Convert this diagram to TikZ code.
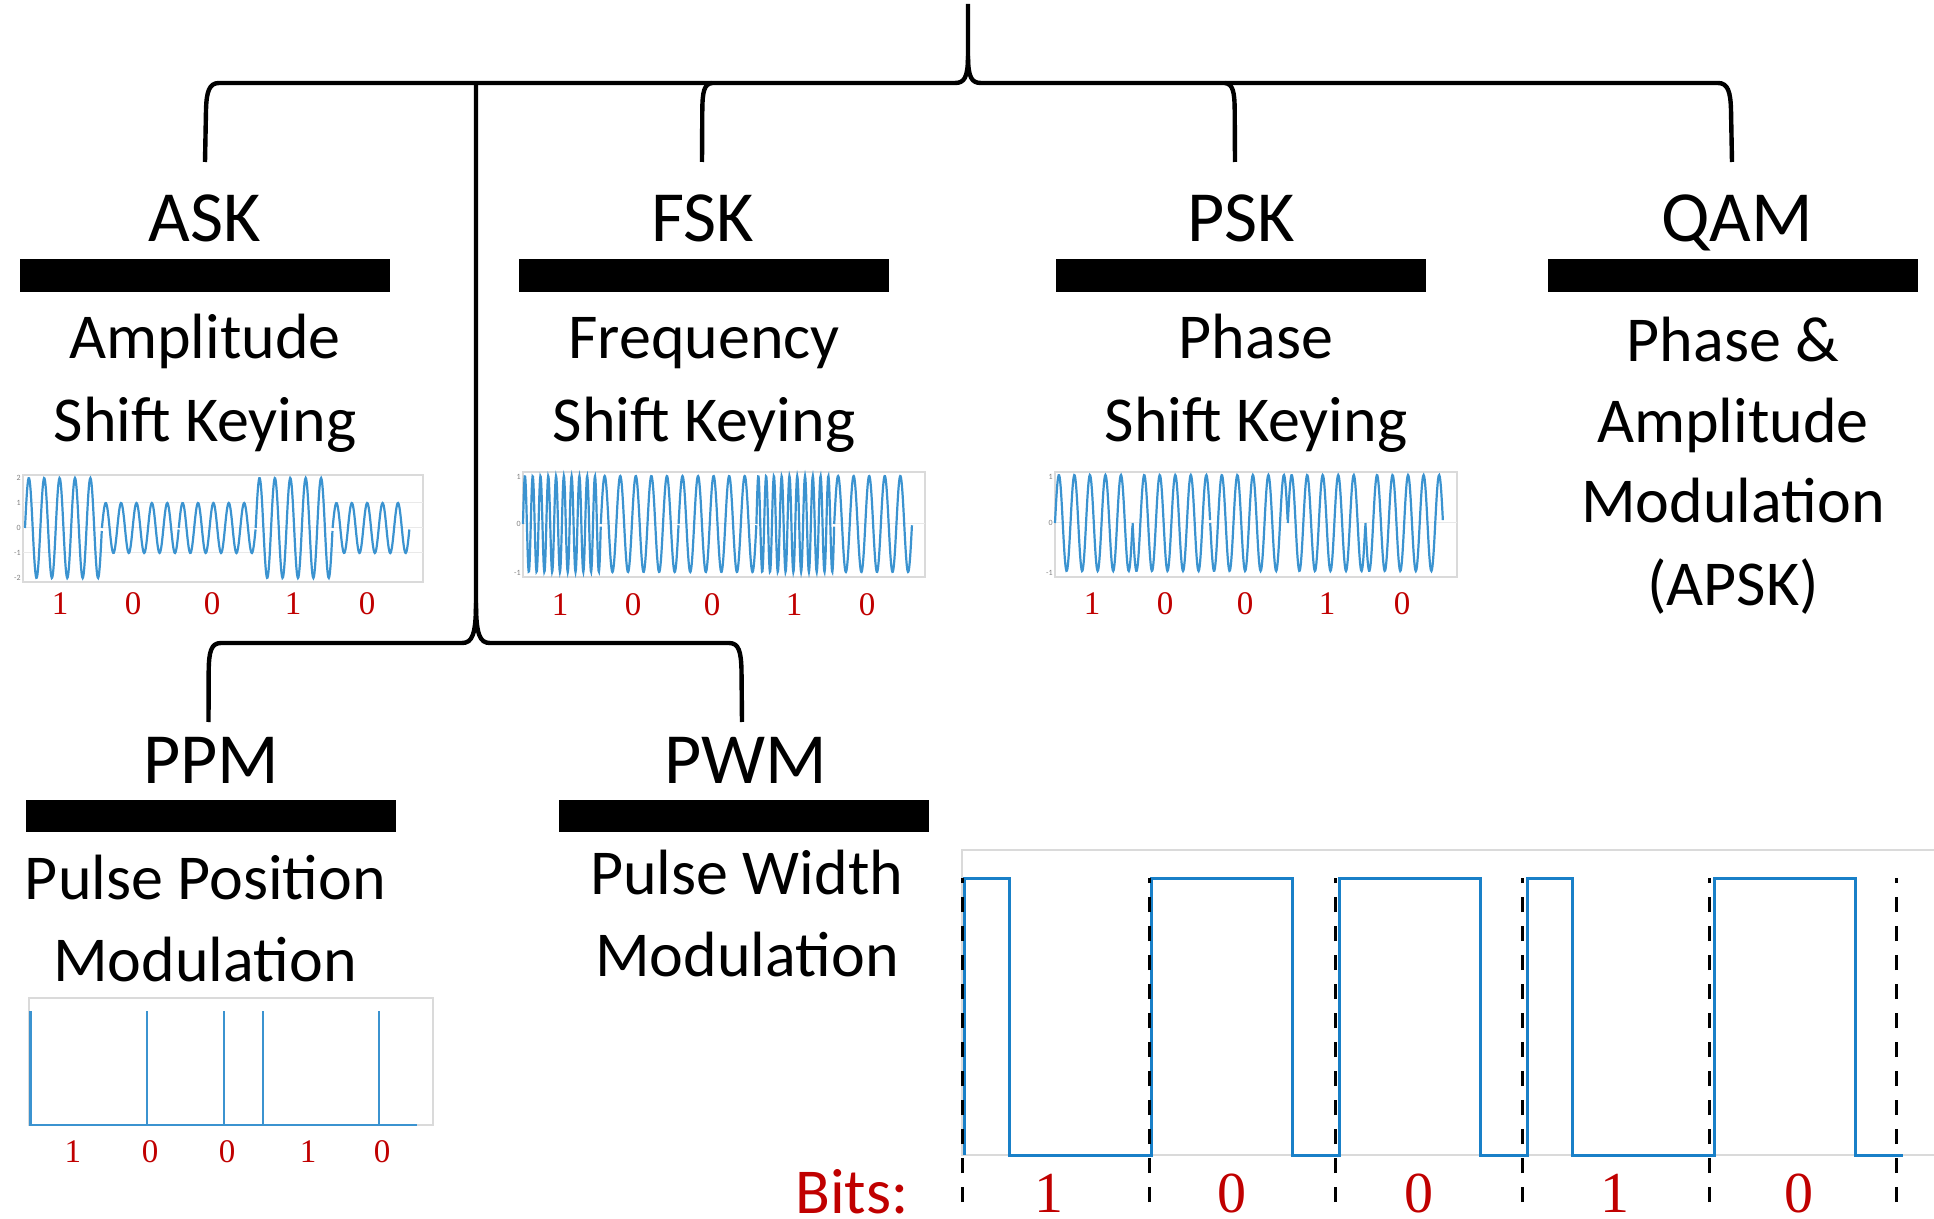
\documentclass[tikz,border=0pt]{standalone}
\usepackage{fontspec}
\setmainfont{Carlito}
\newfontfamily\bitfont{Liberation Serif}
\usetikzlibrary{positioning}
\definecolor{sigblue}{RGB}{25,128,200}
\definecolor{bitred}{RGB}{192,0,0}
\definecolor{framegray}{RGB}{218,218,218}

\begin{document}
\begin{tikzpicture}[
    x=0.5pt, y=-0.5pt,
    title/.style={font=\fontsize{36}{43}\selectfont, anchor=base, inner sep=0pt},
    desc/.style={font=\fontsize{32}{39}\selectfont, anchor=base, inner sep=0pt},
    bar/.style={fill=black, inner sep=0pt, minimum width=185pt, minimum height=16.3pt},
    brace/.style={line width=2.2pt, line join=round},
    frame/.style={draw=framegray, line width=0.9pt},
    gridln/.style={framegray!60, line width=0.5pt},
    wave/.style={sigblue!85, line width=1.1pt},
    ticklbl/.style={font=\fontsize{4}{4}\selectfont, text=gray, anchor=east, inner sep=0.5pt},
    bitlbl/.style={font=\bitfont\fontsize{16.5}{18}\selectfont, text=bitred, anchor=base, inner sep=0pt},
    bigbit/.style={font=\bitfont\fontsize{29}{32}\selectfont, text=bitred, anchor=base, inner sep=0pt, text depth=0pt},
    pwmline/.style={sigblue, line width=1.5pt, line join=miter},
    bitdash/.style={line width=1.5pt, dash pattern=on 7.5pt off 7pt}
  ]
  \useasboundingbox (0,0) rectangle (1934,1219);

  % Brace end points
  \coordinate (root) at (968,4);
  \coordinate (askend) at (205,162);
  \coordinate (fskend) at (702,162);
  \coordinate (pskend) at (1235,162);
  \coordinate (qamend) at (1732,162);
  \coordinate (lowhub) at (476,603);
  \coordinate (ppmend) at (208.5,722);
  \coordinate (pwmend) at (742,722);

  % Top brace
  \draw[brace] (root) -- (968,56) .. controls (968,78) and (964,83) .. (955,83) -- (219,83)
    .. controls (209,83) and (206.5,92) .. (206,110) -- (askend);
  \draw[brace] (968,56) .. controls (968,78) and (972,83) .. (981,83) -- (1718,83)
    .. controls (1728,83) and (1730.5,92) .. (1731,110) -- (qamend);
  \draw[brace] (712,83) .. controls (704,84) and (702.5,92) .. (702.3,110) -- (fskend);
  \draw[brace] (1225,83) .. controls (1233,84) and (1234.5,92) .. (1234.7,110) -- (pskend);

  % Lower brace
  \draw[brace] (476,83) -- (lowhub) .. controls (476,635) and (472,643) .. (462,643) -- (221,643)
    .. controls (211,643) and (209,652) .. (208.7,670) -- (ppmend);
  \draw[brace] (lowhub) .. controls (476,635) and (480,643) .. (490,643) -- (729,643)
    .. controls (739,643) and (741,652) .. (741.5,670) -- (pwmend);

  % Titles and bars
  \node[title] (ask) at (205,242) {ASK};
  \node[title] (fsk) at (703,242) {FSK};
  \node[title] (psk) at (1241,242) {PSK};
  \node[title] (qam) at (1737,242) {QAM};
  \node[title] (ppm) at (211,783.5) {PPM};
  \node[title] (pwm) at (746,783.5) {PWM};

  \node[bar] (askbar) at (205,275.7) {};
  \node[bar] (fskbar) at (703.5,275.7) {};
  \node[bar] (pskbar) at (1240.5,275.7) {};
  \node[bar] (qambar) at (1732.5,275.7) {};
  \node[bar] (ppmbar) at (211,815.8) {};
  \node[bar] (pwmbar) at (744,815.8) {};

  % Descriptions
  \node[desc] (askd1) at (205,358.5) {Amplitude};
  \node[desc] (askd2) at (205,442) {Shift Keying};
  \node[desc] (fskd1) at (704,358.5) {Frequency};
  \node[desc] (fskd2) at (704,442) {Shift Keying};
  \node[desc] (pskd1) at (1256,358.5) {Phase};
  \node[desc] (pskd2) at (1256,442) {Shift Keying};
  \node[desc] (qamd1) at (1733,361.5) {Phase \&};
  \node[desc] (qamd2) at (1733,443) {Amplitude};
  \node[desc] (qamd3) at (1733,523) {Modulation};
  \node[desc] (qamd4) at (1733,605) {(APSK)};
  \node[desc] (ppmd1) at (205.5,899.3) {Pulse Position};
  \node[desc] (ppmd2) at (205,981.7) {Modulation};
  \node[desc] (pwmd1) at (746.7,894.3) {Pulse Width};
  \node[desc] (pwmd2) at (747,976) {Modulation};

  % ASK plot
  \draw[frame] (23,475) rectangle (423,582);
  \foreach \v in {503,528,553} \draw[gridln] (23,\v) -- (423,\v);
  \foreach \v/\t in {478/2, 503/1, 528/0, 553/-1, 578/-2}
    \node[ticklbl] (asktick\t) at (22,\v) {\t};
  \foreach \b [count=\i from 0] in {1,0,0,1,0}
    \draw[wave] plot[domain=0:1, samples=150] ({25+76.9*(\i+\x)}, {528-(25+25*\b)*sin(1800*\x)});
  \foreach \b/\px [count=\i] in {1/60, 0/133, 0/212, 1/293, 0/367}
    \node[bitlbl] (askbit\i) at (\px,614) {\b};

  % FSK plot
  \draw[frame] (523,472) rectangle (925,577);
  \draw[gridln] (523,524) -- (925,524);
  \foreach \v/\t in {477/1, 524/0, 573/-1}
    \node[ticklbl] (fsktick\t) at (522,\v) {\t};
  \foreach \b [count=\i from 0] in {1,0,0,1,0}
    \draw[wave] plot[domain=0:1, samples=220] ({523+77.8*(\i+\x)}, {524-48*sin(360*(5+5*\b)*\x)});
  \foreach \b/\px [count=\i] in {1/560, 0/633, 0/712, 1/794, 0/867}
    \node[bitlbl] (fskbit\i) at (\px,616) {\b};

  % PSK plot
  \draw[frame] (1055,472) rectangle (1457,577);
  \draw[gridln] (1055,523) -- (1457,523);
  \foreach \v/\t in {477/1, 523/0, 573/-1}
    \node[ticklbl] (psktick\t) at (1054,\v) {\t};
  \foreach \b [count=\i from 0] in {1,0,0,1,0}
    \draw[wave] plot[domain=0:1, samples=150] ({1055+77.6*(\i+\x)}, {523-48*(2*\b-1)*sin(1800*\x)});
  \foreach \b/\px [count=\i] in {1/1092, 0/1165, 0/1245, 1/1327, 0/1402}
    \node[bitlbl] (pskbit\i) at (\px,615) {\b};

  % PPM plot
  \draw[frame] (29,998) rectangle (433,1125);
  \draw[wave] (29,1125) -- (417,1125);
  \foreach \b [count=\i from 0] in {1,0,0,1,0}
    \draw[wave] ({30.5+77.4*\i+38.7*(1-\b)},1125) -- ++(0,-114);
  \foreach \b/\px [count=\i] in {1/73, 0/150, 0/227, 1/308, 0/382}
    \node[bitlbl] (ppmbit\i) at (\px,1162) {\b};

  % PWM plot
  \draw[frame] (1934,850) -- (962,850) -- (962,1155) -- (1934,1155);
  \draw[pwmline] (964,1155)
    \foreach \b [count=\i from 0] in {1,0,0,1,0} {
      -- ({964+187.7*\i},1155) -- ({964+187.7*\i},878)
      -- ({964+187.7*\i+141-95.3*\b},878) -- ({964+187.7*\i+141-95.3*\b},1155)
    } -- (1902.5,1155);
  \foreach \i in {0,...,5}
    \draw[bitdash] ({962.2+186.8*\i},1202) -- ++(0,-324);
  \node[desc, text=bitred, text depth=0pt] (bits) at (852,1213.3) {Bits:};
  \foreach \b/\px [count=\i] in {1/1049, 0/1232, 0/1419, 1/1615, 0/1799}
    \node[bigbit] (pwmbit\i) at (\px,1212) {\b};

\end{tikzpicture}
\end{document}
